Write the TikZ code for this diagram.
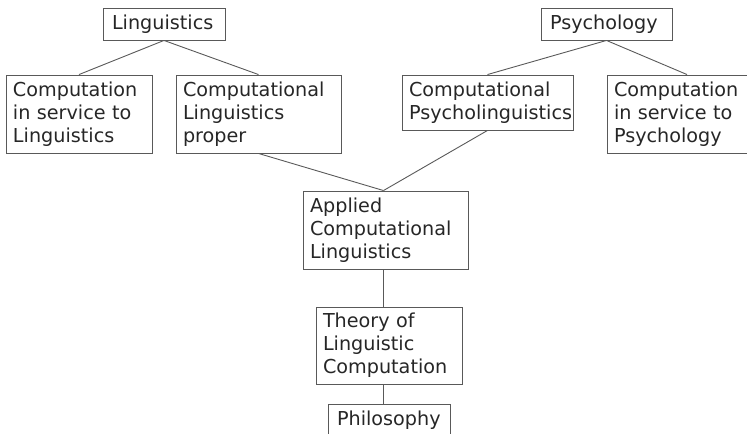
\documentclass[tikz,border=0pt]{standalone}
\usepackage{fontspec}
\setmainfont{DejaVu Sans}
\begin{document}
\begin{tikzpicture}[x=1bp,y=-1bp,
  box/.style={draw=black!65, line width=0.9bp, inner sep=0pt, align=left,
    font=\fontsize{19.2bp}{23bp}\selectfont, text=black!85},
  link/.style={draw=black!65, line width=0.9bp}]
\useasboundingbox (0,0) rectangle (747,434);
\node[box, minimum width=122bp, minimum height=32bp, text width=104bp] (lin) at (164,24) {Linguistics};
\node[box, minimum width=146bp, minimum height=78bp, text width=132bp] (csl) at (79,114) {Computation\\in service to\\Linguistics};
\node[box, minimum width=165bp, minimum height=78bp, text width=151bp] (clp) at (258.5,114) {Computational\\Linguistics\\proper};
\node[box, minimum width=131bp, minimum height=32bp, text width=113bp] (psy) at (606.5,24) {Psychology};
\node[box, minimum width=171bp, minimum height=55bp, text width=157bp] (cpl) at (487.5,102.5) {Computational\\Psycholinguistics};
\node[box, minimum width=160bp, minimum height=78bp, text width=146bp] (csp) at (687,114) {Computation\\in service to\\Psychology};
\node[box, minimum width=165bp, minimum height=78bp, text width=151bp] (acl) at (385.5,230) {Applied\\Computational\\Linguistics};
\node[box, minimum width=146bp, minimum height=77bp, text width=132bp] (tlc) at (389,345.5) {Theory of\\Linguistic\\Computation};
\node[box, minimum width=122bp, minimum height=32bp, text width=104bp] (phi) at (389,420) {Philosophy};
\draw[link] (lin.south) -- (csl.north);
\draw[link] (lin.south) -- (clp.north);
\draw[link] (psy.south) -- (cpl.north);
\draw[link] (psy.south) -- (csp.north);
\draw[link] (clp.south) -- ([xshift=-2bp]acl.north);
\draw[link] (cpl.south) -- ([xshift=-2bp]acl.north);
\coordinate (spine) at ([xshift=-2bp]acl.south);
\draw[link] (spine) -- (spine |- tlc.north);
\draw[link] (spine |- tlc.south) -- (spine |- phi.north);
\end{tikzpicture}
\end{document}
